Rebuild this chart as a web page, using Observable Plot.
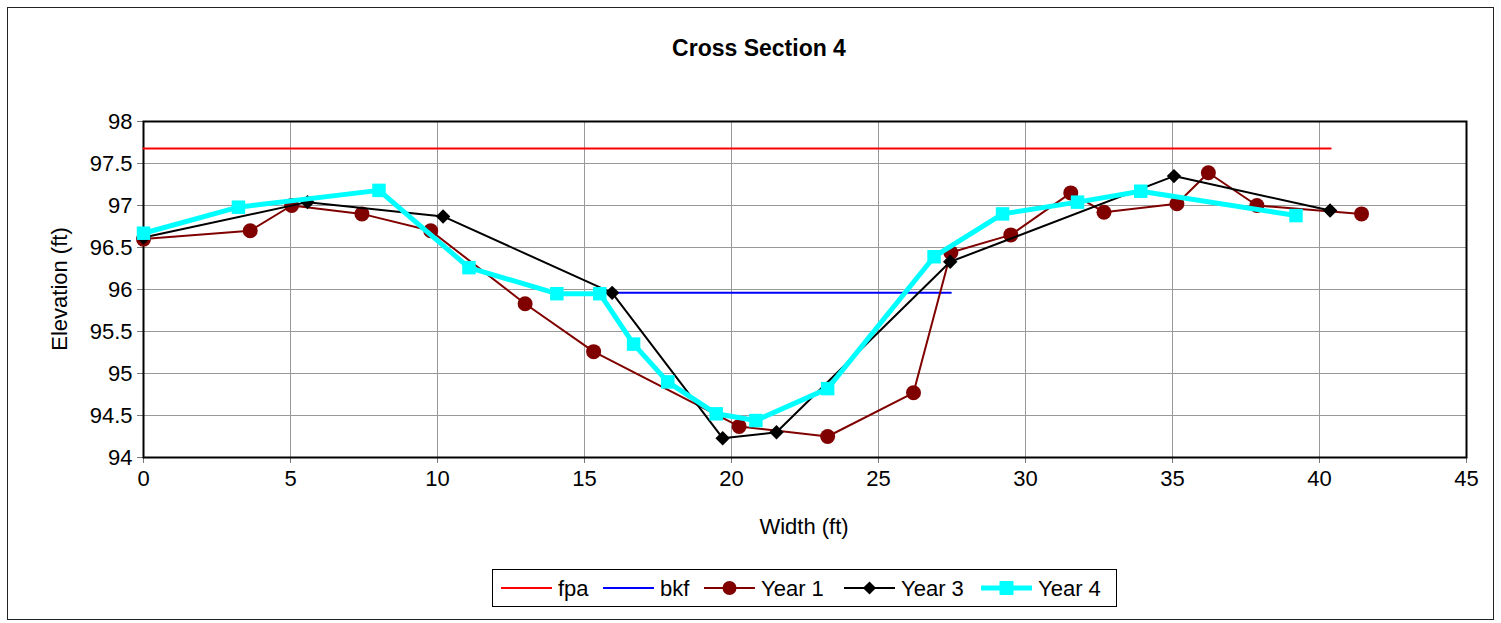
<!DOCTYPE html>
<html><head><meta charset="utf-8">
<script src="https://cdn.jsdelivr.net/npm/d3@7"></script>
<script src="https://cdn.jsdelivr.net/npm/@observablehq/plot@0.6"></script>
<style>
body{margin:0;background:#fff;font-family:"Liberation Sans",Arial,sans-serif;}
#wrap{position:relative;width:1501px;height:623px;overflow:hidden;}
#chart{position:absolute;left:0;top:0;}
#border{position:absolute;left:7px;top:7px;width:1487px;height:613px;border:1.5px solid #222;box-sizing:border-box;pointer-events:none;}
.t{position:absolute;white-space:nowrap;color:#000;font-family:"Liberation Sans",Arial,sans-serif;}
#title{left:759px;top:35px;transform:translateX(-50%);font-size:23px;font-weight:bold;}
#xlab{left:804px;top:514px;transform:translateX(-50%);font-size:22px;}
#ylab{left:60px;top:289px;transform:translate(-50%,-50%) rotate(-90deg);font-size:22px;}
#legend{position:absolute;left:492px;top:569px;width:625px;height:38px;border:1.5px solid #000;box-sizing:border-box;}
</style>
</head><body>
<div id="wrap">
<div id="chart"></div>
<div id="border"></div>
<div class="t" id="title">Cross Section 4</div>
<div class="t" id="xlab">Width (ft)</div>
<div class="t" id="ylab">Elevation (ft)</div>
<div id="legend"></div>
</div>
<script>
// ---- data ----
const xTicks = [0, 5, 10, 15, 20, 25, 30, 35, 40, 45];
const yTicks = [94, 94.5, 95, 95.5, 96, 96.5, 97, 97.5, 98];

const fpaX = [0, 40.38];
const fpaY = [97.68, 97.68];

const bkfX = [15.94, 27.46];
const bkfY = [95.96, 95.96];

const year1X = [0, 3.63, 5.04, 7.43, 9.77, 12.98, 15.31, 20.26, 23.27, 26.19, 27.46, 29.5, 31.54, 32.67, 35.15, 36.22, 37.87, 41.43];
const year1Y = [96.6, 96.7, 97.0, 96.9, 96.7, 95.83, 95.26, 94.37, 94.25, 94.77, 96.44, 96.65, 97.15, 96.92, 97.02, 97.39, 97.0, 96.9];

const year3X = [0, 5.58, 10.19, 15.94, 19.7, 21.53, 27.44, 35.05, 40.36];
const year3Y = [96.62, 97.04, 96.87, 95.96, 94.23, 94.3, 96.33, 97.35, 96.94];

const year4X = [0, 3.23, 8.01, 11.07, 14.06, 15.52, 16.67, 17.83, 19.48, 20.83, 23.27, 26.89, 29.22, 31.77, 33.92, 39.2];
const year4Y = [96.67, 96.98, 97.18, 96.26, 95.95, 95.95, 95.35, 94.9, 94.52, 94.44, 94.82, 96.39, 96.9, 97.04, 97.17, 96.88];

const seriesNames = ["fpa", "bkf", "Year 1", "Year 3", "Year 4"];
const seriesColors = ["#ff0000", "#0000ff", "#800000", "#000000", "#00ffff"];

const pts = (xs, ys) => xs.map((x, i) => ({x, y: ys[i]}));
const fpa = pts(fpaX, fpaY), bkf = pts(bkfX, bkfY);
const y1 = pts(year1X, year1Y), y3 = pts(year3X, year3Y), y4 = pts(year4X, year4Y);

const chart = Plot.plot({
  width: 1501, height: 623,
  marginLeft: 143, marginRight: 35, marginTop: 121, marginBottom: 166,
  style: {fontFamily: '"Liberation Sans", Arial, sans-serif', fontSize: "22px", color: "#000", background: "transparent"},
  x: {domain: [0, 45], label: null},
  y: {domain: [94, 98], label: null},
  marks: [
    Plot.gridX(xTicks, {stroke: "#999", strokeOpacity: 1, strokeWidth: 1}),
    Plot.gridY(yTicks, {stroke: "#999", strokeOpacity: 1, strokeWidth: 1}),
    Plot.axisX(xTicks, {tickSize: 6, tickPadding: 7, label: null, stroke: "#777", fill: "#000", tickFormat: d => String(d)}),
    Plot.axisY(yTicks, {tickSize: 6, tickPadding: 5, label: null, stroke: "#777", fill: "#000", tickFormat: d => String(d)}),
    Plot.frame({stroke: "#000", strokeWidth: 2}),
    Plot.line(fpa, {x: "x", y: "y", stroke: seriesColors[0], strokeWidth: 2}),
    Plot.line(bkf, {x: "x", y: "y", stroke: seriesColors[1], strokeWidth: 2}),
    Plot.line(y1, {x: "x", y: "y", stroke: seriesColors[2], strokeWidth: 2}),
    Plot.dot(y1, {x: "x", y: "y", fill: seriesColors[2], r: 7.5, symbol: "circle"}),
    Plot.line(y3, {x: "x", y: "y", stroke: seriesColors[3], strokeWidth: 2}),
    Plot.dot(y3, {x: "x", y: "y", fill: seriesColors[3], r: 6.5, symbol: "diamond2"}),
    Plot.line(y4, {x: "x", y: "y", stroke: seriesColors[4], strokeWidth: 5}),
    Plot.dot(y4, {x: "x", y: "y", fill: seriesColors[4], r: 7.6, symbol: "square"})
  ]
});
document.getElementById("chart").appendChild(chart);

// legend
const legendPos = [8, 110, 211, 351, 488];
const lg = d3.select("#legend").append("svg").attr("width", 622).attr("height", 35);
seriesNames.forEach((name, i) => {
  const g = lg.append("g").attr("transform", `translate(${legendPos[i]},18)`);
  const sw = i === 4 ? 5 : 2;
  g.append("line").attr("x1", 0).attr("x2", 51).attr("stroke", seriesColors[i]).attr("stroke-width", sw);
  if (i === 2) g.append("circle").attr("cx", 25.5).attr("r", 7).attr("fill", seriesColors[i]);
  if (i === 3) g.append("path").attr("d", d3.symbol(d3.symbolDiamond2, 110)()).attr("transform", "translate(25.5,0)").attr("fill", seriesColors[i]);
  if (i === 4) g.append("rect").attr("x", 25.5 - 7).attr("y", -7).attr("width", 14).attr("height", 14).attr("fill", seriesColors[i]);
  g.append("text").attr("x", 57).attr("y", 8).attr("font-size", 22).attr("font-family", '"Liberation Sans", Arial, sans-serif').text(name);
});
</script>
</body></html>
